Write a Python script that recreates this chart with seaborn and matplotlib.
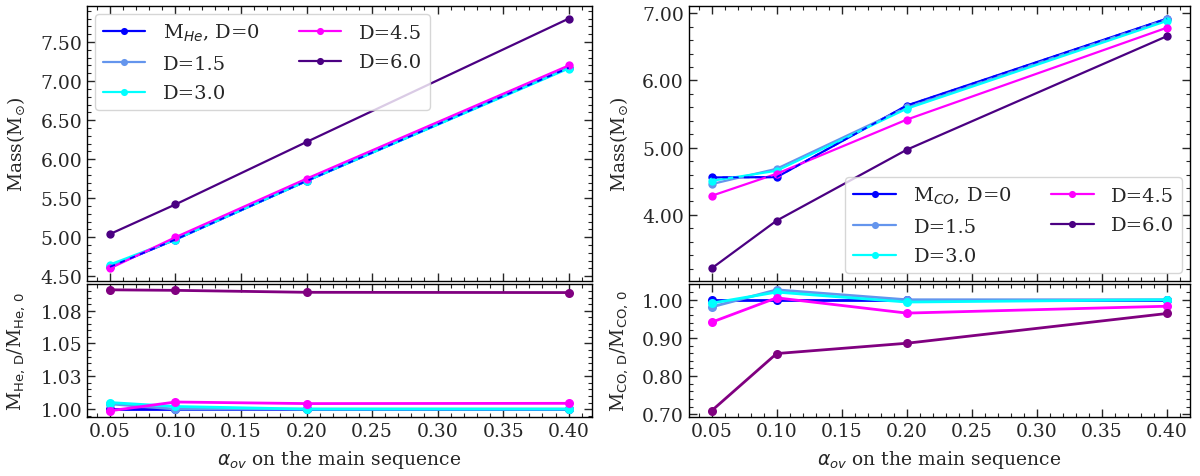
import numpy as np
import pandas as pd
import matplotlib
matplotlib.use("Agg")
import matplotlib.pyplot as plt
import seaborn as sns
from matplotlib.ticker import AutoMinorLocator, FormatStrFormatter, FixedLocator, FixedFormatter

# ---------------- data ----------------
alpha_ov = [0.05, 0.10, 0.20, 0.40]
D_labels = ["0", "1.5", "3.0", "4.5", "6.0"]

mhe_D0 = [4.62, 4.97, 5.72, 7.17]
mhe_D15 = [4.63, 4.97, 5.72, 7.17]
mhe_D30 = [4.65, 4.97, 5.72, 7.16]
mhe_D45 = [4.60, 5.00, 5.75, 7.20]
mhe_D60 = [5.04, 5.42, 6.22, 7.80]

rhe_D0 = [1.000, 1.000, 1.000, 1.000]
rhe_D15 = [1.004, 1.000, 1.000, 1.000]
rhe_D30 = [1.005, 1.002, 1.000, 1.000]
rhe_D45 = [0.9987, 1.0054, 1.0042, 1.0044]
rhe_D60 = [1.0909, 1.0905, 1.0890, 1.0888]

mco_D0 = [4.557, 4.562, 5.627, 6.92]
mco_D15 = [4.458, 4.687, 5.60, 6.91]
mco_D30 = [4.507, 4.657, 5.58, 6.886]
mco_D45 = [4.284, 4.612, 5.418, 6.786]
mco_D60 = [3.204, 3.915, 4.97, 6.66]

rco_D0 = [1.000, 1.000, 1.000, 1.000]
rco_D15 = [0.981, 1.026, 1.000, 1.000]
rco_D30 = [0.991, 1.020, 0.994, 1.000]
rco_D45 = [0.941, 1.005, 0.965, 0.983]
rco_D60 = [0.709, 0.859, 0.886, 0.964]

lower_ticks_he = [1.0, 1.025, 1.05, 1.075]
lower_ticklabels_he = ["1.00", "1.03", "1.05", "1.08"]

top_colors = ["#0000FF", "#6495ED", "#00FFFF", "#FF00FF", "#4B0082"]
low_colors = ["#0000FF", "#6495ED", "#00FFFF", "#FF00FF", "#800080"]

# ---------------- style ----------------
sns.set_theme(style="ticks")
plt.rcParams["font.family"] = ["DejaVu Serif"]
plt.rcParams["mathtext.fontset"] = "dejavusans"
plt.rcParams["font.size"] = 13.5
plt.rcParams["axes.linewidth"] = 1.0

FS = 13.5

fig = plt.figure(figsize=(12, 4.77), dpi=100)
ax_tl = fig.add_axes([0.0725, 0.409, 0.4205, 0.576])
ax_bl = fig.add_axes([0.0725, 0.124, 0.4205, 0.279], sharex=ax_tl)
ax_tr = fig.add_axes([0.574, 0.409, 0.4175, 0.576])
ax_br = fig.add_axes([0.574, 0.124, 0.4175, 0.279], sharex=ax_tr)


def draw(ax, series, colors, labels, lw, ms, overlay_dash):
    for ys, c, lab in zip(series, colors, labels):
        df = pd.DataFrame({"x": alpha_ov, "y": ys})
        sns.lineplot(data=df, x="x", y="y", ax=ax, color=c, marker="o",
                     markersize=ms, linewidth=lw, markeredgewidth=0,
                     label=lab, legend=False)
    if overlay_dash:
        df = pd.DataFrame({"x": alpha_ov, "y": series[0]})
        sns.lineplot(data=df, x="x", y="y", ax=ax, color=colors[0],
                     linewidth=1.3, linestyle=(0, (3, 3)), legend=False)


he_labels = ["M$_{He}$, D=0"] + [f"D={d}" for d in D_labels[1:]]
co_labels = ["M$_{CO}$, D=0"] + [f"D={d}" for d in D_labels[1:]]

draw(ax_tl, [mhe_D0, mhe_D15, mhe_D30, mhe_D45, mhe_D60], top_colors, he_labels, 1.6, 6, True)
draw(ax_bl, [rhe_D0, rhe_D15, rhe_D30, rhe_D45, rhe_D60], low_colors, [None]*5, 2.0, 6.5, False)
draw(ax_tr, [mco_D0, mco_D15, mco_D30, mco_D45, mco_D60], top_colors, co_labels, 1.6, 6, True)
draw(ax_br, [rco_D0, rco_D15, rco_D30, rco_D45, rco_D60], low_colors, [None]*5, 2.0, 6.5, False)

for ax in (ax_tl, ax_bl, ax_tr, ax_br):
    ax.tick_params(which="both", direction="in", top=True, right=True, labelsize=FS)
    ax.tick_params(which="major", length=6, width=1)
    ax.tick_params(which="minor", length=3, width=0.8)
    ax.xaxis.set_minor_locator(AutoMinorLocator(5))
    ax.yaxis.set_minor_locator(AutoMinorLocator(5))
    ax.set_xlabel("")
    ax.set_ylabel("")
    for s in ax.spines.values():
        s.set_linewidth(1.0)
        s.set_color("black")

for ax in (ax_tl, ax_tr):
    ax.tick_params(labelbottom=False)
    ax.yaxis.set_major_formatter(FormatStrFormatter("%.2f"))

ax_tl.set_xticks([0.05, 0.10, 0.15, 0.20, 0.25, 0.30, 0.35, 0.40])
ax_tr.set_xticks([0.05, 0.10, 0.15, 0.20, 0.25, 0.30, 0.35, 0.40])
for ax in (ax_bl, ax_br):
    ax.xaxis.set_major_formatter(FormatStrFormatter("%.2f"))
    ax.set_xlabel(r"$\alpha_{ov}$ on the main sequence", fontsize=FS, labelpad=6)

ax_tl.set_yticks([4.5, 5.0, 5.5, 6.0, 6.5, 7.0, 7.5])
ax_tr.set_yticks([4.0, 5.0, 6.0, 7.0])
ax_bl.yaxis.set_major_locator(FixedLocator(lower_ticks_he))
ax_bl.yaxis.set_major_formatter(FixedFormatter(lower_ticklabels_he))
ax_bl.yaxis.set_minor_locator(AutoMinorLocator(5))
ax_br.set_yticks([0.7, 0.8, 0.9, 1.0])
ax_br.yaxis.set_major_formatter(FormatStrFormatter("%.2f"))

ax_tl.set_ylabel(r"Mass(M$_{\odot}$)", fontsize=FS)
ax_tr.set_ylabel(r"Mass(M$_{\odot}$)", fontsize=FS)
ax_bl.set_ylabel(r"M$_{\rm He,\,D}$/M$_{\rm He,\,0}$", fontsize=FS)
ax_br.set_ylabel(r"M$_{\rm CO,\,D}$/M$_{\rm CO,\,0}$", fontsize=FS)
for ax in (ax_tl, ax_bl):
    ax.yaxis.set_label_coords(-0.118, 0.5)
for ax in (ax_tr, ax_br):
    ax.yaxis.set_label_coords(-0.118, 0.5)

ax_tl.set_xlim(0.0325, 0.4175)
ax_tr.set_xlim(0.0325, 0.4175)

ax_tl.legend(loc="upper left", ncol=2, fontsize=14, frameon=True,
             columnspacing=2.0, handlelength=2.2, handletextpad=0.9,
             markerscale=0.85, borderaxespad=0.4, labelspacing=0.6)
ax_tr.legend(loc="lower right", ncol=2, fontsize=14, frameon=True,
             columnspacing=2.0, handlelength=2.2, handletextpad=0.9,
             markerscale=0.85, borderaxespad=0.4, labelspacing=0.6)

fig.savefig("out.png", dpi=100)
